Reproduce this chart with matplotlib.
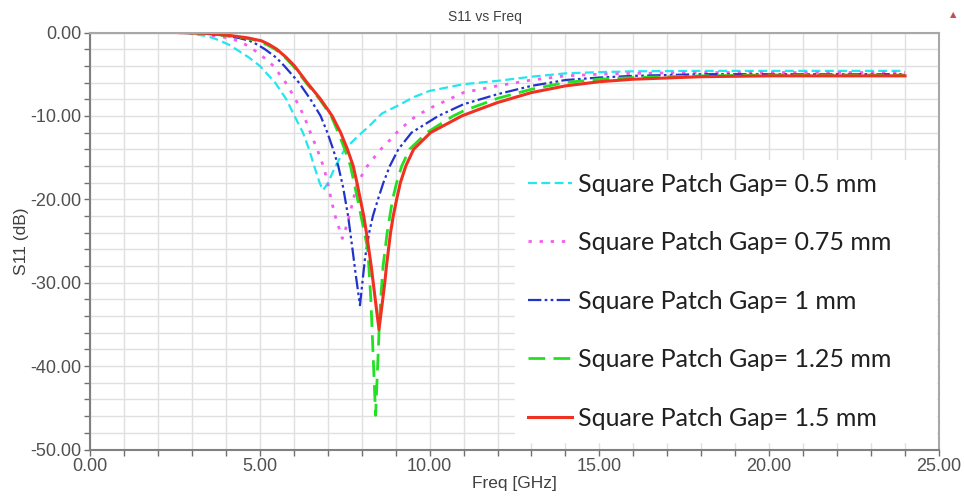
import numpy as np
import matplotlib
matplotlib.use('Agg')
import matplotlib.pyplot as plt
from matplotlib.ticker import MultipleLocator, FormatStrFormatter

# values (freq in GHz, S11 in dB)
f_05 = [0, 2.5, 2.9, 3.4, 3.62, 3.84, 4.08, 4.3, 4.68, 5.0, 5.45, 5.78, 6.02, 6.27, 6.45,
        6.6, 6.76, 6.86, 7.0, 7.22, 7.5, 7.87, 8.2, 8.45, 8.6, 9.15, 9.5, 10, 11, 12, 13,
        14, 15, 16, 18, 20, 22, 24]
s_05 = [0, 0, -0.1, -0.4, -0.65, -1.0, -1.45, -2.0, -3.0, -4.0, -6.0, -8.0, -10.0, -12.0,
        -14.0, -16.0, -18.0, -18.9, -18.1, -16.1, -14.0, -12.5, -11.3, -10.3, -9.7, -8.6,
        -7.8, -7.0, -6.2, -5.8, -5.3, -4.9, -4.75, -4.65, -4.6, -4.6, -4.6, -4.6]

f_075 = [0, 2.5, 3.1, 3.7, 4.05, 4.35, 4.58, 4.8, 5.12, 5.4, 5.76, 6.05, 6.3, 6.49, 6.69,
         6.87, 7.0, 7.1, 7.22, 7.43, 7.58, 7.87, 8.15, 8.54, 8.83, 9.1, 9.6, 10.1, 11, 12,
         13, 14, 15, 16, 18, 20, 22, 24]
s_075 = [0, 0, -0.1, -0.4, -0.65, -1.0, -1.45, -2.0, -3.0, -4.0, -6.0, -8.0, -10.0, -12.0,
         -14.0, -16.0, -18.0, -20.0, -22.0, -24.7, -22.9, -18.1, -16.1, -14.1, -12.9, -11.7,
         -10.0, -8.9, -7.2, -6.4, -5.7, -5.2, -5.0, -4.9, -4.8, -4.8, -4.8, -4.8]

f_1 = [0, 2.5, 3.3, 4.0, 4.38, 4.7, 4.93, 5.15, 5.48, 5.72, 6.15, 6.49, 6.79, 6.99, 7.16,
       7.31, 7.45, 7.6, 7.73, 7.82, 7.95, 8.02, 8.1, 8.22, 8.33, 8.48, 8.64, 8.83, 9.08,
       9.47, 10.26, 11, 12, 13, 14, 15, 16, 18, 20, 22, 24]
s_1 = [0, 0, -0.1, -0.4, -0.65, -1.0, -1.45, -2.0, -3.0, -4.0, -6.0, -8.0, -10.0, -12.0,
       -14.0, -16.0, -18.5, -22.0, -26.0, -28.9, -32.7, -30.0, -27.0, -24.0, -22.0, -20.0,
       -18.0, -16.0, -14.0, -12.0, -10.0, -8.6, -7.4, -6.4, -5.7, -5.4, -5.2, -5.0, -5.0,
       -5.0, -5.0]

f_125 = [0, 2.5, 3.4, 4.1, 4.55, 4.95, 5.2, 5.45, 5.75, 5.98, 6.36, 6.76, 7.1, 7.31, 7.5,
         7.67, 7.88, 8.08, 8.18, 8.27, 8.35, 8.41, 8.47, 8.52, 8.56, 8.63, 8.75, 8.91, 9.03,
         9.18, 9.41, 9.92, 10.7, 11, 12, 13, 14, 15, 16, 18, 20, 22, 24]
s_125 = [0, 0, -0.1, -0.4, -0.65, -1.0, -1.45, -2.0, -3.0, -4.0, -6.0, -8.0, -10.0, -12.0,
         -14.0, -16.0, -20.0, -24.0, -26.0, -32.0, -40.0, -45.9, -40.0, -35.0, -32.0, -28.0,
         -24.0, -20.0, -18.0, -16.0, -14.0, -12.0, -10.0, -9.4, -7.9, -6.8, -6.0, -5.6, -5.4,
         -5.2, -5.1, -5.1, -5.1]

f_15 = [0, 2.5, 3.5, 4.2, 4.65, 5.05, 5.28, 5.5, 5.78, 6.02, 6.39, 6.79, 7.13, 7.38, 7.58,
        7.75, 7.86, 7.96, 8.06, 8.14, 8.21, 8.28, 8.34, 8.4, 8.46, 8.51, 8.62, 8.68, 8.73,
        8.79, 8.85, 8.93, 9.03, 9.14, 9.3, 9.53, 10.03, 10.95, 11.4, 12, 13, 14, 15, 16, 18,
        20, 22, 24]
s_15 = [0, 0, -0.1, -0.4, -0.65, -1.0, -1.45, -2.0, -3.0, -4.0, -6.0, -8.0, -10.0, -12.0,
        -14.0, -16.0, -18.0, -20.0, -22.0, -24.0, -26.0, -28.0, -30.0, -32.0, -34.0, -35.6,
        -32.0, -30.0, -28.0, -26.0, -24.0, -22.0, -20.0, -18.0, -16.0, -14.0, -12.0, -10.0,
        -9.3, -8.4, -7.2, -6.4, -5.9, -5.6, -5.3, -5.2, -5.2, -5.2]

labels = ['Square Patch Gap= 0.5 mm', 'Square Patch Gap= 0.75 mm',
          'Square Patch Gap= 1 mm', 'Square Patch Gap= 1.25 mm',
          'Square Patch Gap= 1.5 mm']

fig = plt.figure(figsize=(9.64, 4.99), dpi=100)
ax = fig.add_axes([90 / 964, 1 - 449.5 / 499, (939 - 90) / 964, 417 / 499])

ax.plot(f_05, s_05, color='#22e6f0', lw=1.6, dashes=(4, 2), label=labels[0])
ax.plot(f_075, s_075, color='#f55cf0', lw=2.0, dashes=(1.2, 2.8), label=labels[1])
ax.plot(f_1, s_1, color='#2233cc', lw=1.6, dashes=(6, 1.5, 1.2, 1.5, 1.2, 1.5), label=labels[2])
ax.plot(f_125, s_125, color='#22e022', lw=2.0, dashes=(6, 3), label=labels[3])
ax.plot(f_15, s_15, color='#f03020', lw=2.2, label=labels[4])

ax.set_xlim(0, 25)
ax.set_ylim(-50, 0)
ax.xaxis.set_major_locator(MultipleLocator(5))
ax.xaxis.set_minor_locator(MultipleLocator(1))
ax.yaxis.set_major_locator(MultipleLocator(10))
ax.yaxis.set_minor_locator(MultipleLocator(2))
ax.xaxis.set_major_formatter(FormatStrFormatter('%.2f'))
ax.yaxis.set_major_formatter(FormatStrFormatter('%.2f'))
ax.grid(which='both', color='#e0e0e0', lw=1.0)
ax.set_axisbelow(True)
ax.tick_params(which='both', direction='out', length=4, width=1, color='#707070',
               labelsize=13, labelcolor='#505050', pad=2)
for side in ['left', 'bottom']:
    ax.spines[side].set_color('#808080')
    ax.spines[side].set_linewidth(1.5)
for side in ['top', 'right']:
    ax.spines[side].set_color('#a8a8a8')
    ax.spines[side].set_linewidth(1.5)

for t in ax.get_xticklabels() + ax.get_yticklabels():
    t.set_fontfamily('Liberation Sans')

ax.set_xlabel('Freq [GHz]', fontsize=12.5, color='#404040', family='Liberation Sans', labelpad=1)
ax.set_ylabel('S11 (dB)', fontsize=12.5, color='#404040', family='Liberation Sans', labelpad=1)
fig.text(485 / 964, 1 - 17 / 499, 'S11 vs Freq', fontsize=10, color='#404040',
         family='Liberation Sans', ha='center', va='center')
fig.text(953 / 964, 1 - 15 / 499, '\u25b2', fontsize=6, color='#c05050',
         ha='center', va='center')

leg = ax.legend(loc='upper left', bbox_to_anchor=(0.5006, 0.0, 0.496, 0.694), mode='expand',
                borderaxespad=0, prop={'family': 'Lato', 'size': 18}, frameon=True,
                framealpha=1, edgecolor='white', fancybox=False, handlelength=1.76,
                handletextpad=0.24, labelspacing=1.42, borderpad=0.5)
for t in leg.get_texts():
    t.set_color('#202020')

fig.savefig('out.png', dpi=100)
